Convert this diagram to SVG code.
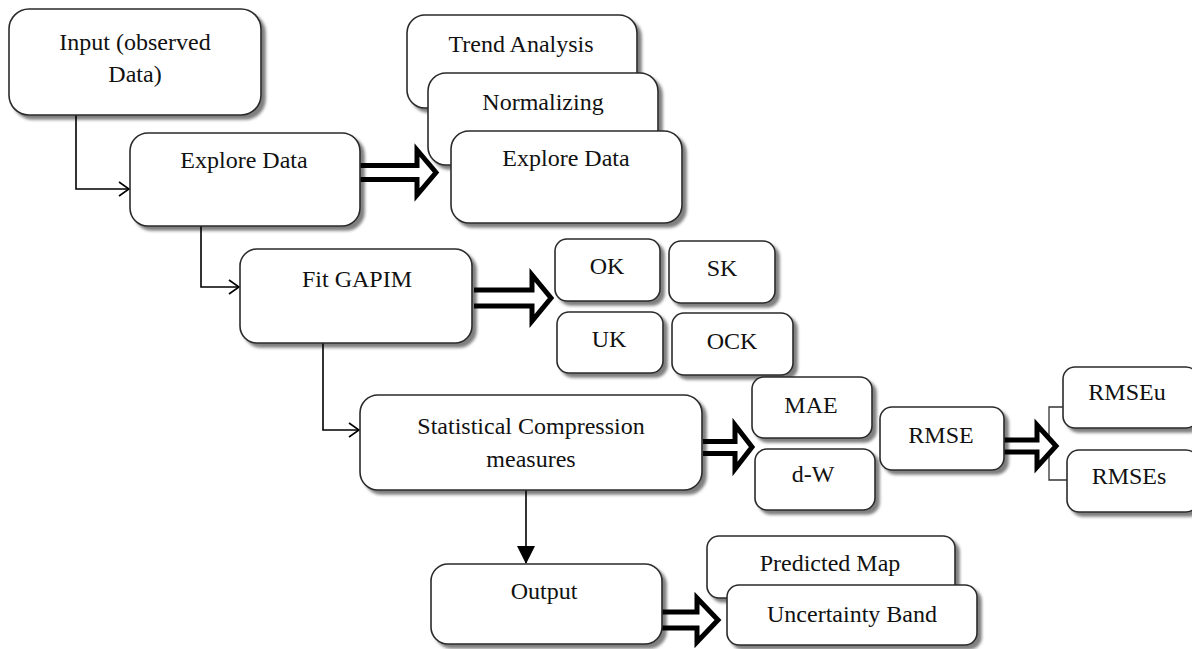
<svg xmlns="http://www.w3.org/2000/svg" width="1192" height="649" viewBox="0 0 1192 649">
  <defs>
    <filter id="shadow" x="-10%" y="-10%" width="130%" height="140%">
      <feDropShadow dx="4" dy="4" stdDeviation="1.6" flood-color="#000" flood-opacity="0.5"/>
    </filter>
    <marker id="open" viewBox="0 0 12 16" refX="11" refY="8" markerWidth="12" markerHeight="16" markerUnits="userSpaceOnUse" orient="auto">
      <path d="M1,1 L11,8 L1,15" fill="none" stroke="#000" stroke-width="1.6"/>
    </marker>
    <marker id="solid" viewBox="0 0 18 18" refX="17" refY="9" markerWidth="18" markerHeight="18" markerUnits="userSpaceOnUse" orient="auto">
      <path d="M0,0 L18,9 L0,18 Z" fill="#000"/>
    </marker>
  </defs>
  <style>
    .box { fill: #fff; stroke: #2a2a2a; stroke-width: 1.6; filter: url(#shadow); }
    .lbl { font-family: "Liberation Serif", "Times New Roman", serif; font-size: 24px; fill: #111; text-anchor: middle; }
    .link { fill: none; stroke: #000; stroke-width: 1.6; }
    .thin { fill: none; stroke: #333; stroke-width: 1.3; }
    .block { fill: #fff; stroke: #000; stroke-width: 5; stroke-linejoin: miter; stroke-miterlimit: 10; }
  </style>

  <rect width="1192" height="649" fill="#fff"/>

  <!-- connectors -->
  <g id="connectors">
    <path class="link" d="M76,115 V189 H129" marker-end="url(#open)"/>
    <path class="link" d="M201,226 V287 H239" marker-end="url(#open)"/>
    <path class="link" d="M323,343 V430 H359" marker-end="url(#open)"/>
    <path class="link" d="M526,490 V563" marker-end="url(#solid)"/>
    <path class="thin" d="M1063,407 H1049 V480 H1067"/>
    <path class="block" d="M360,165.5 H417 V150 L436,172.5 L417,195 V179.5 H360"/>
    <path class="block" d="M474,290 H532 V275 L551,298 L532,321 V306 H474"/>
    <path class="block" d="M703,441.5 H735 V425 L752,447 L735,469 V453.5 H703"/>
    <path class="block" d="M1004,440 H1037 V425 L1056,446 L1037,467 V452 H1004"/>
    <path class="block" d="M662,612 H697 V598 L718,620 L697,642 V628 H662"/>
  </g>

  <g id="input">
    <rect class="box" x="9" y="9" width="252" height="106" rx="20"/>
    <text class="lbl" x="135" y="50">Input (observed</text>
    <text class="lbl" x="135" y="82">Data)</text>
  </g>

  <g id="explore-left">
    <rect class="box" x="130" y="133" width="230" height="93" rx="18"/>
    <text class="lbl" x="244" y="168">Explore Data</text>
  </g>

  <g id="trend">
    <rect class="box" x="407" y="15" width="230" height="93" rx="18"/>
    <text class="lbl" x="521" y="52">Trend Analysis</text>
  </g>
  <g id="normalizing">
    <rect class="box" x="428" y="73" width="230" height="92" rx="18"/>
    <text class="lbl" x="543" y="110">Normalizing</text>
  </g>
  <g id="explore-right">
    <rect class="box" x="451" y="131" width="231" height="92" rx="18"/>
    <text class="lbl" x="566" y="166">Explore Data</text>
  </g>

  <g id="fit">
    <rect class="box" x="240" y="249" width="232" height="94" rx="17"/>
    <text class="lbl" x="357" y="287">Fit GAPIM</text>
  </g>

  <g id="ok">
    <rect class="box" x="555" y="239" width="105" height="62" rx="12"/>
    <text class="lbl" x="607" y="274">OK</text>
  </g>
  <g id="sk">
    <rect class="box" x="669" y="241" width="106" height="62" rx="12"/>
    <text class="lbl" x="722" y="276">SK</text>
  </g>
  <g id="uk">
    <rect class="box" x="557" y="312" width="106" height="61" rx="12"/>
    <text class="lbl" x="609" y="347">UK</text>
  </g>
  <g id="ock">
    <rect class="box" x="672" y="313" width="121" height="62" rx="12"/>
    <text class="lbl" x="732" y="349">OCK</text>
  </g>

  <g id="stats">
    <rect class="box" x="360" y="395" width="342" height="95" rx="18"/>
    <text class="lbl" x="531" y="434">Statistical Compression</text>
    <text class="lbl" x="531" y="467">measures</text>
  </g>

  <g id="mae">
    <rect class="box" x="752" y="377" width="120" height="61" rx="12"/>
    <text class="lbl" x="811" y="413">MAE</text>
  </g>
  <g id="dw">
    <rect class="box" x="755" y="449" width="120" height="61" rx="12"/>
    <text class="lbl" x="813" y="482">d-W</text>
  </g>
  <g id="rmse">
    <rect class="box" x="880" y="407" width="124" height="63" rx="12"/>
    <text class="lbl" x="941" y="443">RMSE</text>
  </g>
  <g id="rmseu">
    <rect class="box" x="1063" y="367" width="135" height="61" rx="12"/>
    <text class="lbl" x="1127" y="400">RMSEu</text>
  </g>
  <g id="rmses">
    <rect class="box" x="1067" y="450" width="131" height="62" rx="12"/>
    <text class="lbl" x="1129" y="484">RMSEs</text>
  </g>

  <g id="output">
    <rect class="box" x="431" y="564" width="231" height="80" rx="17"/>
    <text class="lbl" x="544" y="599">Output</text>
  </g>
  <g id="predicted">
    <rect class="box" x="707" y="536" width="248" height="62" rx="12"/>
    <text class="lbl" x="830" y="571">Predicted Map</text>
  </g>
  <g id="uncertainty">
    <rect class="box" x="727" y="585" width="250" height="60" rx="12"/>
    <text class="lbl" x="852" y="622">Uncertainty Band</text>
  </g>
</svg>
